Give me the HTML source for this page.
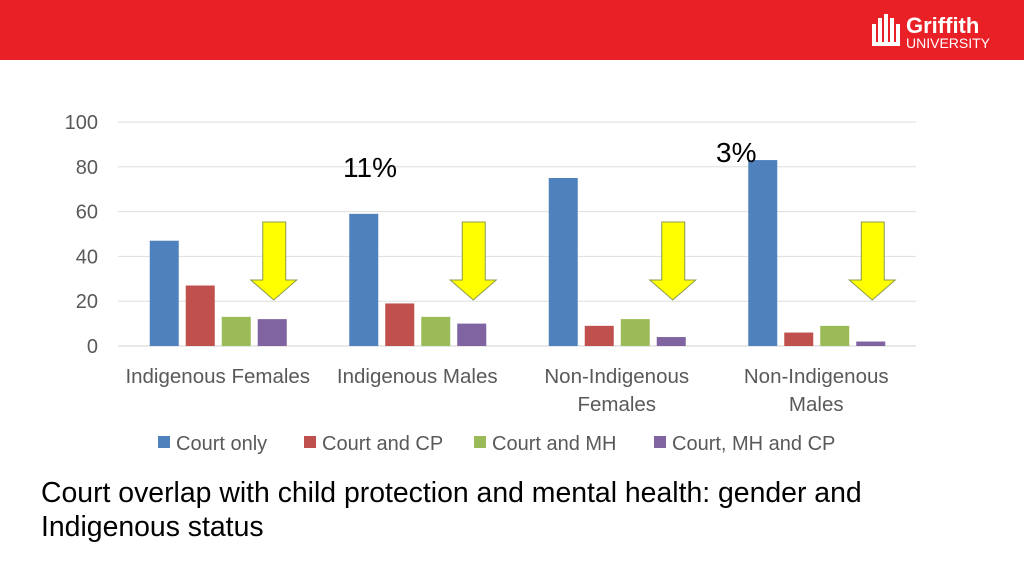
<!DOCTYPE html>
<html><head><meta charset="utf-8"><style>
body{margin:0;width:1024px;height:576px;overflow:hidden;background:#fff;font-family:"Liberation Sans",sans-serif;position:relative}
</style></head><body>
<div style="position:absolute;left:0;top:0;width:1024px;height:60px;background:#e92127"></div>
<svg style="position:absolute;left:868px;top:10px" width="150" height="42">
<g fill="#fff"><rect x="4" y="14" width="4" height="20"/><rect x="10" y="8" width="4" height="26"/><rect x="16" y="4" width="4" height="30"/><rect x="22" y="8" width="4" height="26"/><rect x="28" y="14" width="4" height="20"/><rect x="4" y="32" width="28" height="4"/></g>
<text x="38" y="23" font-family="Liberation Sans" font-weight="bold" font-size="22" fill="#fff">Griffith</text>
<text x="38" y="38" font-family="Liberation Sans" font-size="14" fill="#fff">UNIVERSITY</text>
</svg>
<svg id="chart" style="position:absolute;left:0;top:0" width="1024" height="576"></svg>
<div style="position:absolute;left:41px;top:476px;font-size:28.4px;line-height:34px;color:#000">Court overlap with child protection and mental health: gender and<br>Indigenous status</div>
<script>
const categories=[["Indigenous Females"],["Indigenous Males"],["Non-Indigenous","Females"],["Non-Indigenous","Males"]];
const seriesNames=["Court only","Court and CP","Court and MH","Court, MH and CP"];
const courtOnly=[47,59,75,83];
const courtCP=[27,19,9,6];
const courtMH=[13,13,12,9];
const courtMHCP=[12,10,4,2];
const yTicks=[0,20,40,60,80,100];
const colors=["#4f81bd","#c0504d","#9bbb59","#8064a2"];
const series=[courtOnly,courtCP,courtMH,courtMHCP];
const svg=document.getElementById('chart');
const NS="http://www.w3.org/2000/svg";
const x0=118,x1=916,yb=346,yt=122;
const y=v=>yb-(v/100)*(yb-yt);
const gw=(x1-x0)/categories.length;
function el(t,a,p){const e=document.createElementNS(NS,t);for(const k in a)e.setAttribute(k,a[k]);(p||svg).appendChild(e);return e;}
yTicks.forEach(t=>{
const l=el('line',{x1:x0,x2:x1,y1:y(t),y2:y(t),stroke:t===0?'#d0d0d0':'#dedede','stroke-width':1});


const tx=el('text',{x:98,y:y(t)+7,'text-anchor':'end','font-size':20,fill:'#595959','font-family':'Liberation Sans'});
tx.textContent=t;


});
const bw=29,step=36;
categories.forEach((c,i)=>{
const cx=x0+gw*(i+0.5);
series.forEach((s,j)=>{
const bx=cx-68+j*step;
const r=el('rect',{x:bx,y:y(s[i]),width:bw,height:yb-y(s[i]),fill:colors[j]});


});
c.forEach((ln,k)=>{
const t=el('text',{x:cx,y:383+k*28,'text-anchor':'middle','font-size':20.5,fill:'#595959','font-family':'Liberation Sans'});
t.textContent=ln;


});
const ax=cx+56;
const a=el('polygon',{points:`${ax-11},222 ${ax+12},222 ${ax+12},280 ${ax+23},280 ${ax},300 ${ax-23},280 ${ax-11},280`,fill:'#ffff00',stroke:'#8a9a50','stroke-width':1});


});
[["11%",343,177],["3%",716,162]].forEach(d=>{
const t=el('text',{x:d[1],y:d[2],'font-size':28,fill:'#000','font-family':'Liberation Sans'});
t.textContent=d[0];


});
const lx=[158,304,474,654];
seriesNames.forEach((n,j)=>{
const g=el('g',{});


el('rect',{x:lx[j],y:436,width:12,height:12,fill:colors[j]},g);
const t=el('text',{x:lx[j]+18,y:450,'font-size':20,fill:'#595959','font-family':'Liberation Sans'},g);
t.textContent=n;
});
</script>
</body></html>
